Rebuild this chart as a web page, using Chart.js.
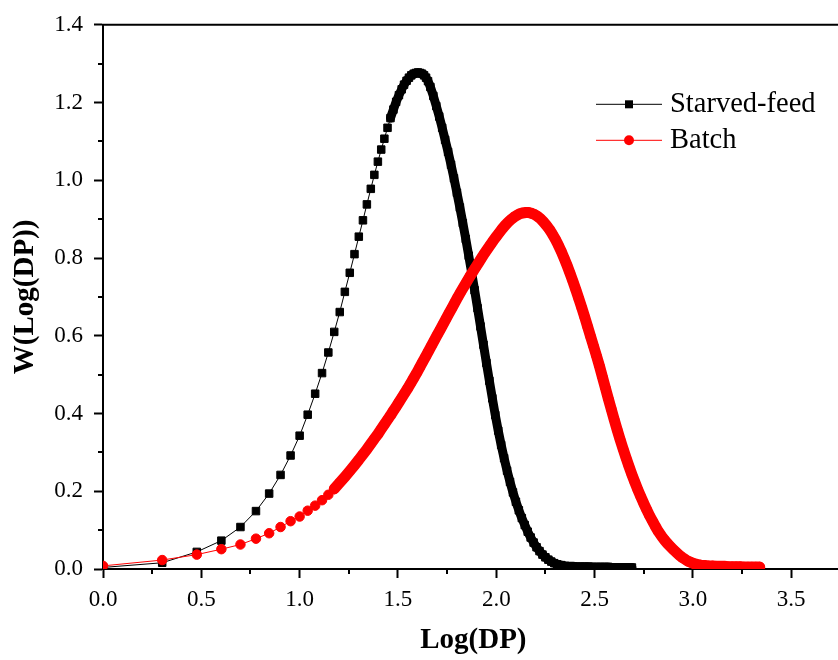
<!DOCTYPE html>
<html><head><meta charset="utf-8">
<script src="https://cdn.jsdelivr.net/npm/chart.js@4/dist/chart.umd.min.js"></script>
<style>html,body{margin:0;padding:0;background:#fff;overflow:hidden;width:838px;height:660px}canvas{display:block}</style>
</head><body>
<canvas id="c" width="850" height="660"></canvas>
<script>
// ---- data ----
const seriesNames = ['Starved-feed', 'Batch'];

const starvedLogDP = [0, 0.301, 0.477, 0.602, 0.699, 0.778, 0.845, 0.903, 0.954, 1.000,
  1.041, 1.079, 1.114, 1.146, 1.176, 1.204, 1.230, 1.255, 1.279, 1.301,
  1.322, 1.342, 1.362, 1.380, 1.398, 1.415, 1.431, 1.447, 1.462, 1.477,
  1.491, 1.505, 1.519, 1.531, 1.544, 1.556, 1.568, 1.580, 1.591, 1.602,
  1.613, 1.623, 1.633, 1.643, 1.653,
  1.665, 1.680, 1.695, 1.710, 1.725, 1.740, 1.755, 1.770, 1.785, 1.800,
  1.815, 1.830, 1.845, 1.860, 1.875, 1.890, 1.905, 1.920, 1.935, 1.950,
  1.965, 1.980, 1.995, 2.010, 2.025, 2.040, 2.055, 2.070, 2.085, 2.100,
  2.115, 2.130, 2.145, 2.160, 2.175, 2.190, 2.205, 2.220, 2.235, 2.250,
  2.265, 2.280, 2.295, 2.310, 2.330, 2.350, 2.370, 2.390, 2.410, 2.430,
  2.450, 2.470, 2.490, 2.510, 2.530, 2.550, 2.570, 2.590, 2.610, 2.630,
  2.650, 2.670, 2.690];
const starvedW = [0.004, 0.016, 0.044, 0.073, 0.108, 0.149, 0.194, 0.242, 0.292, 0.343,
  0.397, 0.451, 0.504, 0.557, 0.610, 0.661, 0.713, 0.762, 0.810, 0.855,
  0.897, 0.938, 0.978, 1.014, 1.048, 1.079, 1.107, 1.135, 1.160, 1.182,
  1.202, 1.219, 1.234, 1.246, 1.256, 1.264, 1.270, 1.274, 1.276, 1.277,
  1.276, 1.274, 1.270, 1.264, 1.255,
  1.240, 1.217, 1.191, 1.164, 1.135, 1.104, 1.073, 1.040, 1.005, 0.968,
  0.930, 0.890, 0.849, 0.806, 0.762, 0.717, 0.671, 0.624, 0.577, 0.530,
  0.484, 0.439, 0.396, 0.356, 0.319, 0.285, 0.253, 0.224, 0.197, 0.173,
  0.151, 0.131, 0.113, 0.096, 0.081, 0.068, 0.056, 0.046, 0.037, 0.030,
  0.024, 0.019, 0.015, 0.012, 0.010, 0.008, 0.007, 0.007, 0.006, 0.006,
  0.006, 0.006, 0.005, 0.005, 0.005, 0.005, 0.005, 0.004, 0.004, 0.004,
  0.004, 0.004, 0.004];

const batchLogDP = [0, 0.301, 0.477, 0.602, 0.699, 0.778, 0.845, 0.903, 0.954, 1.000,
  1.041, 1.079, 1.114, 1.146, 1.176, 1.204, 1.230, 1.255, 1.279, 1.301,
  1.322, 1.342, 1.362, 1.380, 1.398, 1.415, 1.431, 1.447, 1.462, 1.477,
  1.490, 1.505, 1.520, 1.535, 1.550, 1.565, 1.580, 1.595, 1.610, 1.625,
  1.640, 1.655, 1.670, 1.685, 1.700, 1.715, 1.730, 1.745, 1.760, 1.775,
  1.790, 1.805, 1.820, 1.835, 1.850, 1.865, 1.880, 1.895, 1.910, 1.925,
  1.940, 1.955, 1.970, 1.985, 2.000, 2.015, 2.030, 2.045, 2.060, 2.075,
  2.090, 2.105, 2.120, 2.135, 2.150, 2.165, 2.180, 2.195, 2.210, 2.225,
  2.240, 2.255, 2.270, 2.285, 2.300, 2.315, 2.330, 2.345, 2.360, 2.375,
  2.390, 2.405, 2.420, 2.435, 2.450, 2.465, 2.480, 2.495, 2.510, 2.525,
  2.540, 2.555, 2.570, 2.585, 2.600, 2.615, 2.630, 2.645, 2.660, 2.675,
  2.690, 2.705, 2.720, 2.735, 2.750, 2.765, 2.780, 2.795, 2.810, 2.825,
  2.840, 2.855, 2.870, 2.885, 2.900, 2.915, 2.930, 2.945, 2.960, 2.975,
  2.990, 3.005, 3.020, 3.040, 3.060, 3.080, 3.100, 3.120, 3.140, 3.160,
  3.180, 3.200, 3.220, 3.240, 3.260, 3.280, 3.300, 3.320, 3.340];
const batchW = [0.008, 0.023, 0.037, 0.051, 0.063, 0.078, 0.092, 0.108, 0.123, 0.135,
  0.150, 0.163, 0.177, 0.191, 0.206, 0.222, 0.237, 0.252, 0.267, 0.281,
  0.295, 0.308, 0.322, 0.335, 0.347, 0.360, 0.372, 0.384, 0.395, 0.407,
  0.417, 0.429, 0.441, 0.453, 0.465, 0.478, 0.491, 0.504, 0.518, 0.532,
  0.546, 0.560, 0.574, 0.588, 0.602, 0.616, 0.630, 0.644, 0.658, 0.672,
  0.686, 0.700, 0.713, 0.726, 0.739, 0.752, 0.764, 0.776, 0.788, 0.800,
  0.812, 0.823, 0.834, 0.845, 0.855, 0.865, 0.875, 0.884, 0.892, 0.899,
  0.905, 0.910, 0.914, 0.916, 0.917, 0.917, 0.915, 0.912, 0.907, 0.901,
  0.893, 0.884, 0.874, 0.862, 0.849, 0.834, 0.818, 0.800, 0.781, 0.761,
  0.740, 0.718, 0.695, 0.672, 0.648, 0.623, 0.598, 0.573, 0.548, 0.522,
  0.494, 0.466, 0.438, 0.411, 0.384, 0.358, 0.333, 0.309, 0.286, 0.264,
  0.243, 0.223, 0.204, 0.186, 0.169, 0.153, 0.137, 0.123, 0.109, 0.096,
  0.085, 0.075, 0.066, 0.058, 0.050, 0.043, 0.036, 0.030, 0.025, 0.020,
  0.017, 0.014, 0.012, 0.010, 0.009, 0.008, 0.008, 0.007, 0.007, 0.007,
  0.006, 0.006, 0.006, 0.006, 0.005, 0.005, 0.005, 0.005, 0.005];

const xTickValues = [0, 0.5, 1.0, 1.5, 2.0, 2.5, 3.0, 3.5];
const xMinorTicks = [0.25, 0.75, 1.25, 1.75, 2.25, 2.75, 3.25, 3.75];
const yTickValues = [0, 0.2, 0.4, 0.6, 0.8, 1.0, 1.2, 1.4];
const yMinorTicks = [0.1, 0.3, 0.5, 0.7, 0.9, 1.1, 1.3];
const xTitle = 'Log(DP)';
const yTitle = 'W(Log(DP))';

// where the markers of each series start to merge into a solid band
const starvedDenseFrom = 28;
const batchDenseFrom = 14;

// ---- chart ----
const FONT = "'Liberation Serif', 'Times New Roman', serif";
const toPts = (xs, ys) => xs.map((v, i) => ({x: v, y: ys[i]}));

const extras = {
  id: 'extras',
  afterDraw(chart) {
    const {ctx, chartArea: a, scales: {x, y}} = chart;
    ctx.save();
    ctx.strokeStyle = '#000';
    ctx.lineWidth = 2;
    ctx.beginPath();
    xMinorTicks.forEach(v => { const p = Math.round(x.getPixelForValue(v)); ctx.moveTo(p, a.bottom); ctx.lineTo(p, a.bottom + 5); });
    yMinorTicks.forEach(v => { const p = Math.round(y.getPixelForValue(v)); ctx.moveTo(a.left, p); ctx.lineTo(a.left - 5, p); });
    ctx.moveTo(a.left - 1, a.top);
    ctx.lineTo(a.right, a.top);
    ctx.stroke();

    // legend inside plot
    const rows = [
      {name: seriesNames[0], color: '#000', style: 'rect', y: a.top + 79},
      {name: seriesNames[1], color: '#ff0000', style: 'circle', y: a.top + 115}
    ];
    rows.forEach(r => {
      ctx.strokeStyle = r.color;
      ctx.lineWidth = 1;
      ctx.beginPath();
      ctx.moveTo(596, r.y + 0.5);
      ctx.lineTo(662, r.y + 0.5);
      ctx.stroke();
      ctx.fillStyle = r.color;
      if (r.style === 'rect') {
        ctx.fillRect(625, r.y - 3.5, 8, 8);
      } else {
        ctx.beginPath();
        ctx.arc(629, r.y + 0.5, 5, 0, Math.PI * 2);
        ctx.fill();
      }
      ctx.fillStyle = '#000';
      ctx.font = '28.5px ' + FONT;
      ctx.textBaseline = 'middle';
      ctx.textAlign = 'left';
      ctx.fillText(r.name, 670, r.y + 1);
    });
    ctx.restore();
  }
};

new Chart(document.getElementById('c'), {
  type: 'line',
  data: {
    datasets: [
      {
        label: seriesNames[0],
        data: toPts(starvedLogDP, starvedW),
        borderColor: '#000', borderWidth: 1,
        borderJoinStyle: 'round', borderCapStyle: 'round',
        segment: {borderWidth: c => c.p0DataIndex >= starvedDenseFrom ? 9 : 1},
        pointStyle: 'rect', pointRadius: 5.3, pointBorderWidth: 1,
        pointBackgroundColor: '#000', pointBorderColor: '#000',
        tension: 0, order: 1
      },
      {
        label: seriesNames[1],
        data: toPts(batchLogDP, batchW),
        borderColor: '#ff0000', borderWidth: 1,
        borderJoinStyle: 'round', borderCapStyle: 'round',
        segment: {borderWidth: c => c.p0DataIndex >= batchDenseFrom ? 11 : 1},
        pointStyle: 'circle', pointRadius: 4.75, pointBorderWidth: 1,
        pointBackgroundColor: '#ff0000', pointBorderColor: '#ff0000',
        tension: 0, order: 0
      }
    ]
  },
  options: {
    responsive: false,
    animation: false,
    devicePixelRatio: 1,
    layout: {padding: {top: 24, right: 0, left: 0, bottom: 0}},
    plugins: {legend: {display: false}, tooltip: {enabled: false}},
    scales: {
      x: {
        type: 'linear', min: 0, max: 3.767,
        afterBuildTicks: s => { s.ticks = xTickValues.map(v => ({value: v})); },
        afterFit: s => { s.height = 91; },
        ticks: {
          callback: v => Number(v).toFixed(1),
          font: {family: FONT, size: 23}, color: '#000', padding: 8, maxRotation: 0
        },
        grid: {drawOnChartArea: false, drawTicks: true, tickLength: 9, tickWidth: 2, tickColor: '#000'},
        border: {color: '#000', width: 2},
        title: {display: true, text: xTitle, color: '#000',
          font: {family: FONT, size: 29, weight: 'bold'}, padding: {top: 0, bottom: 2}}
      },
      y: {
        type: 'linear', min: 0, max: 1.4,
        afterBuildTicks: s => { s.ticks = yTickValues.map(v => ({value: v})); },
        afterFit: s => { s.width = 103; },
        ticks: {
          callback: v => Number(v).toFixed(1),
          font: {family: FONT, size: 23}, color: '#000', padding: 11
        },
        grid: {drawOnChartArea: false, drawTicks: true, tickLength: 9, tickWidth: 2, tickColor: '#000'},
        border: {color: '#000', width: 2},
        title: {display: true, text: yTitle, color: '#000',
          font: {family: FONT, size: 29, weight: 'bold'}, padding: {top: 8, bottom: 0}}
      }
    }
  },
  plugins: [extras]
});
</script>
</body></html>
